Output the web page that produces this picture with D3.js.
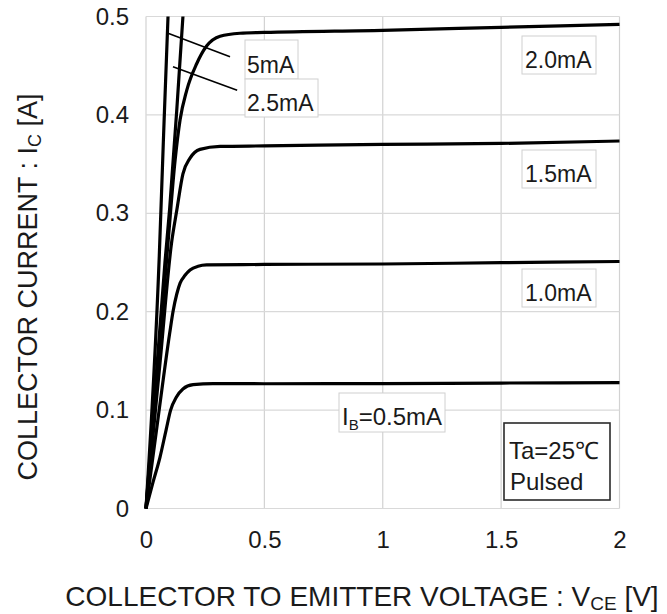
<!DOCTYPE html>
<html><head><meta charset="utf-8">
<script src="https://cdn.jsdelivr.net/npm/d3@7"></script>
<style>body{margin:0;background:#fff}svg{display:block}text{font-family:"Liberation Sans",Arial,sans-serif;fill:#1a1a1a}</style>
</head><body><svg id="c" width="667" height="614"></svg>
<script>
// Data: collector current IC [A] vs VCE [V] for several base currents
const xTicks = [0, 0.5, 1, 1.5, 2];
const yTicks = [0, 0.1, 0.2, 0.3, 0.4, 0.5];
const xTickLabels = ["0", "0.5", "1", "1.5", "2"];
const yTickLabels = ["0", "0.1", "0.2", "0.3", "0.4", "0.5"];

const vce05 = [0, 0.03, 0.059, 0.085, 0.104, 0.128, 0.156, 0.199, 0.283, 0.5, 1.0, 1.5, 2.0];
const ic05  = [0, 0.027, 0.052, 0.080, 0.100, 0.1130, 0.1215, 0.1258, 0.127, 0.1268, 0.127, 0.1275, 0.128];

const vce10 = [0, 0.05, 0.1, 0.114, 0.13, 0.144, 0.165, 0.186, 0.22, 0.256, 0.5, 1.0, 1.5, 2.0];
const ic10  = [0, 0.09, 0.178, 0.2, 0.218, 0.229, 0.237, 0.2424, 0.2462, 0.2475, 0.248, 0.2485, 0.2498, 0.251];

const vce15 = [0, 0.06, 0.108, 0.130, 0.156, 0.186, 0.228, 0.313, 0.5, 1.0, 1.5, 2.0];
const ic15  = [0, 0.15, 0.27, 0.303, 0.340, 0.356, 0.365, 0.368, 0.3685, 0.370, 0.371, 0.3735];

const vce20 = [0, 0.093, 0.123, 0.144, 0.172, 0.214, 0.256, 0.313, 0.397, 0.5, 1.0, 1.5, 2.0];
const ic20  = [0, 0.27, 0.354, 0.395, 0.425, 0.452, 0.470, 0.480, 0.483, 0.4838, 0.486, 0.489, 0.492];

const vce25 = [0, 0.08, 0.1, 0.13, 0.156, 0.165];
const ic25  = [0, 0.25, 0.305, 0.405, 0.5, 0.53];

const vce50 = [0, 0.056, 0.073, 0.093, 0.1];
const ic50  = [0, 0.256, 0.371, 0.5, 0.54];

const seriesNames = ["0.5mA", "1.0mA", "1.5mA", "2.0mA", "2.5mA", "5mA"];
const seriesV = [vce05, vce10, vce15, vce20, vce25, vce50];
const seriesI = [ic05, ic10, ic15, ic20, ic25, ic50];

const svg = d3.select("#c");
const x = d3.scaleLinear().domain([0, 2]).range([146, 619.5]);
const y = d3.scaleLinear().domain([0, 0.5]).range([508.5, 16.5]);

// grid
const g = svg.append("g");
g.selectAll("line.v").data(xTicks).join("line")
  .attr("x1", d => x(d)).attr("x2", d => x(d)).attr("y1", y(0)).attr("y2", y(0.5))
  .attr("stroke", "#d2d2d2").attr("stroke-width", 1.2);
g.selectAll("line.h").data(yTicks).join("line")
  .attr("y1", d => y(d)).attr("y2", d => y(d)).attr("x1", x(0)).attr("x2", x(2))
  .attr("stroke", "#d9d9d9").attr("stroke-width", 1.2);

// axes (labels only)
const xAxis = d3.axisBottom(x).tickValues(xTicks).tickFormat((d, i) => xTickLabels[i]).tickSize(0).tickPadding(22);
const yAxis = d3.axisLeft(y).tickValues(yTicks).tickFormat((d, i) => yTickLabels[i]).tickSize(0).tickPadding(17);
const gx = svg.append("g").attr("transform", `translate(0,${y(0)})`).call(xAxis);
const gy = svg.append("g").attr("transform", `translate(${x(0)},0)`).call(yAxis);
[gx, gy].forEach(a => { a.select(".domain").remove(); a.selectAll("text").attr("font-size", 24).attr("font-family", '"Liberation Sans",Arial,sans-serif').attr("fill", "#1a1a1a"); });

// curves
svg.append("clipPath").attr("id", "pc").append("rect")
  .attr("x", x(0) - 3).attr("y", y(0.5)).attr("width", x(2) - x(0) + 6).attr("height", y(0) - y(0.5) + 3);
const line = d3.line().x(d => x(d[0])).y(d => y(d[1])).curve(d3.curveMonotoneX);
svg.append("g").attr("clip-path", "url(#pc)").selectAll("path")
  .data(seriesV.map((v, i) => v.map((vv, j) => [vv, seriesI[i][j]])))
  .join("path").attr("d", line).attr("fill", "none").attr("stroke", "#000")
  .attr("stroke-width", 3.2).attr("stroke-linejoin", "round");

// leader lines
const leaders = [[[0.093, 0.483], [0.355, 0.459]], [[0.114, 0.449], [0.385, 0.425]]];
svg.selectAll("line.ld").data(leaders).join("line")
  .attr("x1", d => x(d[0][0])).attr("y1", d => y(d[0][1])).attr("x2", d => x(d[1][0])).attr("y2", d => y(d[1][1]))
  .attr("stroke", "#000").attr("stroke-width", 1.6);

// label boxes
function box(x0, y0, w, h, stroke, sw) {
  svg.append("rect").attr("x", x0).attr("y", y0).attr("width", w).attr("height", h)
    .attr("fill", "#fff").attr("stroke", stroke).attr("stroke-width", sw);
}
function label(tx, ty, txt, fs) {
  return svg.append("text").attr("x", tx).attr("y", ty).attr("font-size", fs || 23).text(txt);
}
box(245, 40, 53, 39, "#d0d0d0", 1);
box(245, 79, 73, 38, "#d0d0d0", 1);
label(247, 73, seriesNames[5]);
label(247, 111, seriesNames[4]);
box(522, 36, 74, 38, "#d0d0d0", 1);
label(525, 68, seriesNames[3]);
box(522, 150, 74, 38, "#d0d0d0", 1);
label(525, 182, seriesNames[2]);
box(522, 269, 74, 38, "#d0d0d0", 1);
label(525, 301, seriesNames[1]);
box(339, 393, 106, 39, "#d0d0d0", 1);
const ib = svg.append("text").attr("x", 342).attr("y", 425).attr("font-size", 24);
ib.append("tspan").text("I");
ib.append("tspan").attr("font-size", 15).attr("dy", 5).text("B");
ib.append("tspan").attr("dy", -5).text("=" + seriesNames[0]);

box(504, 423, 106, 77, "#2a2a2a", 1.6);
label(509, 459, "Ta=25℃", 24);
label(510, 490, "Pulsed", 24);

// axis titles
const xt = svg.append("text").attr("x", 362).attr("y", 606).attr("text-anchor", "middle").attr("font-size", 28);
xt.append("tspan").text("COLLECTOR TO EMITTER VOLTAGE : V");
xt.append("tspan").attr("font-size", 19).attr("dy", 4).text("CE");
xt.append("tspan").attr("dy", -4).text(" [V]");

const yt = svg.append("text").attr("transform", "translate(37,287) rotate(-90)").attr("text-anchor", "middle").attr("font-size", 27);
yt.append("tspan").text("COLLECTOR CURRENT : I");
yt.append("tspan").attr("font-size", 18).attr("dy", 4).text("C");
yt.append("tspan").attr("dy", -4).text(" [A]");
</script></body></html>
